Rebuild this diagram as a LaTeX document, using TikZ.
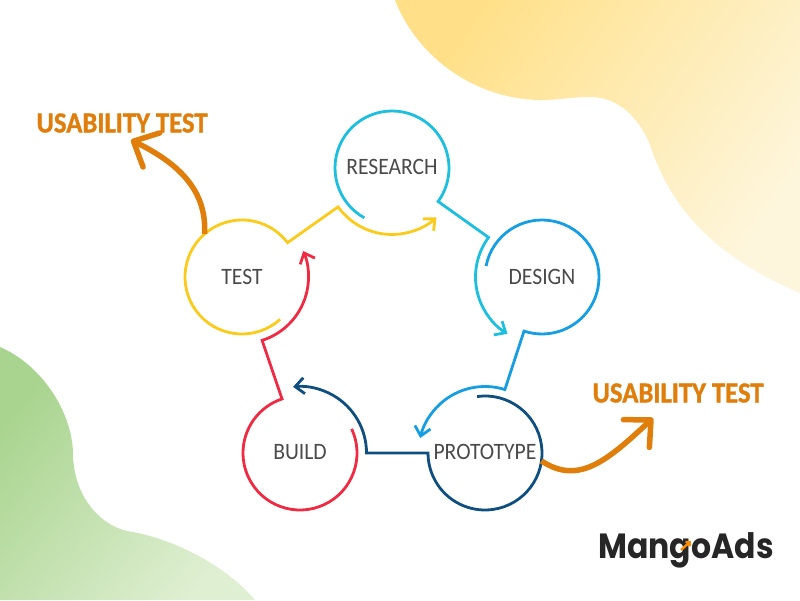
\documentclass[tikz,border=0pt]{standalone}
\usepackage{fontspec}
\setmainfont{Carlito}[FakeStretch=0.92, BoldFeatures={FakeBold=1.2}]
\newfontfamily\logofont{Poppins}[FakeStretch=0.9]
\usetikzlibrary{arrows.meta, calc}
\definecolor{researchcol}{HTML}{1CBFE0}
\definecolor{designcol}{HTML}{159FE2}
\definecolor{protocol}{HTML}{0F4F80}
\definecolor{buildcol}{HTML}{EE2B43}
\definecolor{testcol}{HTML}{FBCB1C}
\definecolor{usabilitycol}{HTML}{E07E0B}
\definecolor{labelcol}{HTML}{4A4A4A}
\definecolor{yellowfrom}{HTML}{FFE088}
\definecolor{yellowto}{HTML}{FEF6DC}
\definecolor{greenfrom}{HTML}{A9D48F}
\definecolor{greento}{HTML}{DFEFD2}
\begin{document}
\begin{tikzpicture}[
        x=1pt, y=1pt,
        stage/.style = {
            circle,
            minimum size=114pt,
            inner sep=0pt,
            outer sep=0pt,
            text=labelcol,
            font=\fontsize{23.5}{23.5}\selectfont
        },
        ringline/.style = {
            line width=2.8pt,
            -{Straight Barb[length=9pt, width=16pt, line width=2.8pt]}
        },
        usability/.style = {
            text=usabilitycol,
            font=\fontsize{29}{29}\selectfont\bfseries
        },
        usabilityline/.style = {
            draw=usabilitycol,
            line width=5.5pt,
            -{Straight Barb[length=20pt, width=38pt, line width=5.5pt, round]}
        }
    ]
        \useasboundingbox (0,0) rectangle (800,600);

        \shade[left color=yellowfrom, right color=yellowto, shading angle=55]
            (395,600) .. controls (418,540) and (480,498) .. (547,500)
            .. controls (565,501) and (572,503) .. (590,503)
            .. controls (620,503) and (640,480) .. (650,455)
            .. controls (670,395) and (710,345) .. (800,307)
            -- (800,600) -- cycle;
        \shade[left color=greenfrom, right color=greento, shading angle=50]
            (0,253) .. controls (40,236) and (72,190) .. (73,147)
            .. controls (73,105) and (100,72) .. (133,68)
            .. controls (175,60) and (225,35) .. (255,0)
            -- (0,0) -- cycle;

        \node [stage] (research)  at (392,432) {\raisebox{3pt}{RESEARCH}};
        \node [stage] (design)    at (542,323) {DESIGN};
        \node [stage] (prototype) at (485,147) {\raisebox{2pt}{PROTOTYPE}};
        \node [stage] (build)     at (300,147) {\raisebox{2pt}{BUILD}};
        \node [stage] (test)      at (242,323) {TEST};

        \foreach \from/\to/\ringstart/\ringend/\nextstart/\nextend/\col in {
            research/design/241/-36/143.5/238.7/researchcol,
            design/prototype/169/-108.4/72.6/167/designcol,
            prototype/build/98/-180/0/96/protocol,
            build/test/25/-251.6/-72.4/23/buildcol,
            test/research/-48/-323/215.8/312/testcol} {
            \draw [ringline, \col] (\from.\ringstart)
                arc[start angle=\ringstart, end angle=\ringend, radius=57]
                -- ($(\to)+(\nextstart:66.5)$)
                arc[start angle=\nextstart, end angle=\nextend, radius=66.5];
        }

        \node [usability] (usabilityleft)  at (122,477) {USABILITY TEST};
        \node [usability] (usabilityright) at (678,207) {USABILITY TEST};
        \coordinate (lefttip)  at (131,460);
        \coordinate (righttip) at (653,182);

        \draw [usabilityline] (test.131) .. controls (207,410) and (178,437) .. (lefttip);
        \draw [usabilityline] (prototype.-8) .. controls (578,115) and (606,138) .. (righttip);

        \node [text=black!85, font=\logofont\fontsize{35}{35}\selectfont\bfseries] (logo) at (686,50) {MangoAds};
        \coordinate (logofrom) at (681,50);
        \coordinate (logoto)   at (691,59);
        \draw [-{Straight Barb[length=3pt, width=6pt, line width=2.4pt]}, line width=2.4pt, orange!90!yellow] (logofrom) -- (logoto);
    \end{tikzpicture}
\end{document}
